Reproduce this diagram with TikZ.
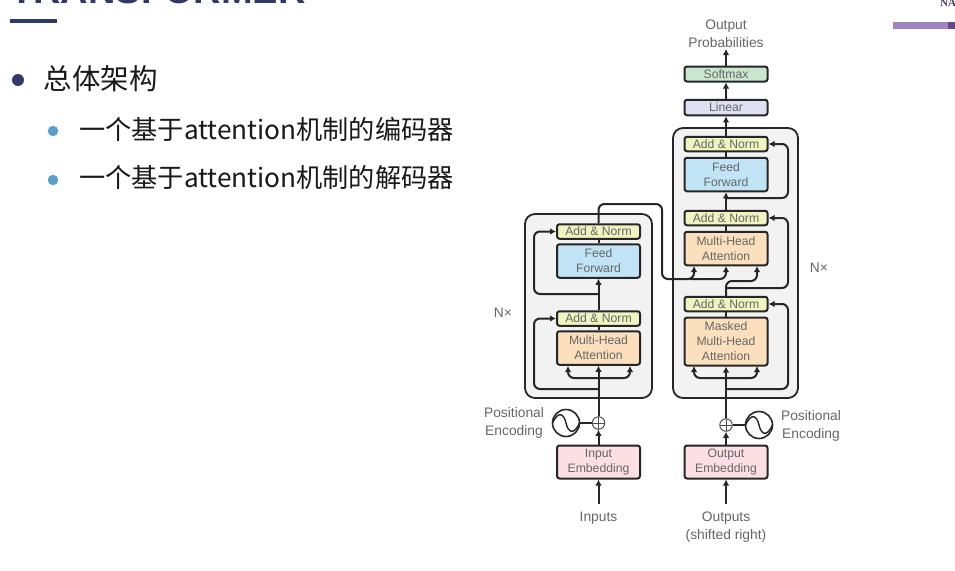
\documentclass[tikz,border=0pt]{standalone}
\usepackage{fontspec}
\setmainfont{Liberation Sans}
\newfontfamily\cjk{Noto Sans CJK SC}
\newfontfamily\heros{Liberation Sans}
\newfontfamily\serifb{Liberation Serif}
\usetikzlibrary{arrows.meta,positioning}
\definecolor{navy}{HTML}{2F3A68}
\definecolor{bullb}{HTML}{5B9FC8}
\definecolor{lab}{HTML}{666666}
\definecolor{cadd}{HTML}{EFF5C0}
\definecolor{cff}{HTML}{C0E4F6}
\definecolor{cmh}{HTML}{FCE0BE}
\definecolor{cemb}{HTML}{FBDFE2}
\definecolor{clin}{HTML}{DEE0F3}
\definecolor{csm}{HTML}{C9E6CF}
\definecolor{pbar}{HTML}{A385BE}
\definecolor{pdark}{HTML}{644A8A}
\definecolor{ink}{HTML}{262626}
\tikzset{
  x=1pt,y=-1pt,
  blk/.style={draw=ink,line width=2pt,rounded corners=2.5pt,text=lab,align=center,font=\heros\fontsize{12.2}{15}\selectfont,inner sep=0pt,minimum width=83pt},
  addn/.style={blk,fill=cadd,minimum height=14.5pt},
  ffw/.style={blk,fill=cff,minimum height=33.5pt},
  mha/.style={blk,fill=cmh,minimum height=33.5pt},
  emb/.style={blk,fill=cemb,minimum height=33pt},
  labl/.style={text=lab,align=center,font=\heros\fontsize{13.8}{18}\selectfont,inner sep=0pt},
  cn/.style={draw=ink,line width=2pt,rounded corners=6pt},
  ar/.style={cn,-{Latex[length=6pt,width=6.5pt]}},
  stack/.style={draw=ink,line width=1.8pt,fill=black!5,rounded corners=10pt,inner sep=0pt},
  plusn/.style={circle,draw=black!70,line width=1pt,minimum size=12.5pt,inner sep=0pt,fill=white,
     path picture={\draw[black!70,line width=.8pt] (path picture bounding box.north) -- (path picture bounding box.south) (path picture bounding box.west) -- (path picture bounding box.east);}},
  sinen/.style={circle,draw=ink,line width=1.6pt,minimum size=27pt,inner sep=0pt,
     path picture={\draw[ink,line width=1.4pt] (path picture bounding box.west) .. controls +(6,-13) and +(-2,-9) .. (path picture bounding box.center) .. controls +(2,9) and +(-6,13) .. (path picture bounding box.east);}},
  bar/.style={inner sep=0pt,anchor=north west}
}
\begin{document}
\begin{tikzpicture}
\fill[white] (0,0) rectangle (955,570);
\clip (0,0) rectangle (955,570);
% slide furniture
\node[anchor=base west,inner sep=0pt,text=navy,font=\heros\bfseries\fontsize{38}{38}\selectfont] (title) at (10,3) {TRANSFORMER};
\node[bar,fill=navy,minimum width=47pt,minimum height=4pt] (rule) at (10,19) {};
\node[bar,fill=pbar,minimum width=62pt,minimum height=7pt] (pb) at (893,22) {};
\node[bar,fill=pdark,minimum width=7pt,minimum height=7pt] (pd) at (948,22) {};
\node[anchor=base west,inner sep=0pt,text=pdark!80!black,font=\serifb\bfseries\fontsize{11}{11}\selectfont] (na) at (940,6) {NAN};
% bullets
\node[circle,fill=navy,minimum size=12pt,inner sep=0pt] (b0) at (18,80) {};
\node[circle,fill=bullb,minimum size=10.5pt,inner sep=0pt] (b1) at (53,131) {};
\node[circle,fill=bullb,minimum size=10.5pt,inner sep=0pt] (b2) at (53,180) {};
\node[anchor=west,inner sep=0pt,font=\cjk\fontsize{28.5}{28.5}\selectfont,text=black!90] (t0) at (43.5,79) {总体架构};
\node[anchor=west,inner sep=0pt,font=\cjk\fontsize{26.2}{26}\selectfont,text=black!90] (t1) at (79,129) {一个基于attention机制的编码器};
\node[anchor=west,inner sep=0pt,font=\cjk\fontsize{26.2}{26}\selectfont,text=black!90] (t2) at (79,178) {一个基于attention机制的解码器};
% stacks
\node[stack,minimum width=127pt,minimum height=184pt] (encS) at (588.5,306) {};
\node[stack,minimum width=125pt,minimum height=270pt] (decS) at (735.5,263) {};
% encoder
\node[emb] (ie) at (598.5,462) {Input\\Embedding};
\node[mha] (emh) at (598.5,348) {Multi-Head\\Attention};
\node[addn] (ean1) at (598.5,318.5) {Add \& Norm};
\node[ffw] (eff) at (598.5,261) {Feed\\Forward};
\node[addn] (ean2) at (598.5,231.5) {Add \& Norm};
\node[plusn] (ep) at (598.5,423) {};
\node[sinen] (es) at (566,423) {};
% decoder
\node[emb] (oe) at (726,462) {Output\\Embedding};
\node[mha,minimum height=48pt] (dmm) at (726,341.5) {Masked\\Multi-Head\\Attention};
\node[addn] (dan1) at (726,304) {Add \& Norm};
\node[mha] (dmh) at (726,248.5) {Multi-Head\\Attention};
\node[addn] (dan2) at (726,218) {Add \& Norm};
\node[ffw] (dff) at (726,174.5) {Feed\\Forward};
\node[addn] (dan3) at (726,144) {Add \& Norm};
\node[blk,fill=clin,minimum height=15.5pt] (lin) at (726,107.5) {Linear};
\node[blk,fill=csm,minimum height=15pt] (sm) at (726,74) {Softmax};
\node[plusn] (dp) at (726,425) {};
\node[sinen] (ds) at (759,425) {};
% labels
\node[labl] (inl) at (598.5,518) {Inputs};
\node[labl] (outl) at (726,527) {Outputs\\(shifted right)};
\node[labl] (prob) at (726,33.5) {Output\\Probabilities};
\node[labl] (pel) at (514,422.5) {Positional\\Encoding};
\node[labl] (per) at (811,425.5) {Positional\\Encoding};
\node[labl] (nl) at (503,313) {N×};
\node[labl] (nr) at (819,268) {N×};
% helper coordinates
\coordinate (inS) at (598.5,504);
\coordinate (outS) at (726,504);
% vertical connectors
\draw[ar] (inS) -- (ie.south);
\draw[ar] (ie.north) -- (ep.south);
\draw[ar] (ep.north) -- (emh.south);
\draw[cn] (emh.north) -- (ean1.south);
\draw[ar] (ean1.north) -- (eff.south);
\draw[cn] (eff.north) -- (ean2.south);
\draw[cn] (es.east) -- (ep.west);
\draw[ar] (outS) -- (oe.south);
\draw[ar] (oe.north) -- (dp.south);
\draw[ar] (dp.north) -- (dmm.south);
\draw[cn] (dmm.north) -- (dan1.south);
\draw[cn] (dmh.north) -- (dan2.south);
\draw[ar] (dan2.north) -- (dff.south);
\draw[cn] (dff.north) -- (dan3.south);
\draw[ar] (dan3.north) -- (lin.south);
\draw[ar] (lin.north) -- (sm.south);
\draw[ar] (sm.north) -- (726,49);
\draw[cn] (ds.west) -- (dp.east);
% encoder residuals
\draw[ar] (598.5,389) -- (534,389) -- (534,318.5) -- (ean1.west);
\draw[ar] (598.5,294) -- (534,294) -- (534,231.5) -- (ean2.west);
\draw[ar] (598.5,378) -- (568,378) -- (568,366);
\draw[ar] (598.5,378) -- (630,378) -- (630,366);
% decoder residuals
\draw[ar] (726,389) -- (788,389) -- (788,304) -- (dan1.east);
\draw[ar] (726,198) -- (788,198) -- (788,144) -- (dan3.east);
\draw[ar] (726,378) -- (694,378) -- (694,366);
\draw[ar] (726,378) -- (757,378) -- (757,366);
\draw[ar] (726,288) -- (788,288) -- (788,218) -- (dan2.east);
\draw[ar] (dan1.north) -- (726,281) -- (757,281) -- (757,266);
% encoder to decoder
\draw[ar] (ean2.north) -- (598.5,204) -- (662,204) -- (662,279) -- (694,279) -- (694,266);
\draw[ar] (690,279) -- (726,279) -- (726,266);
\end{tikzpicture}
\end{document}
